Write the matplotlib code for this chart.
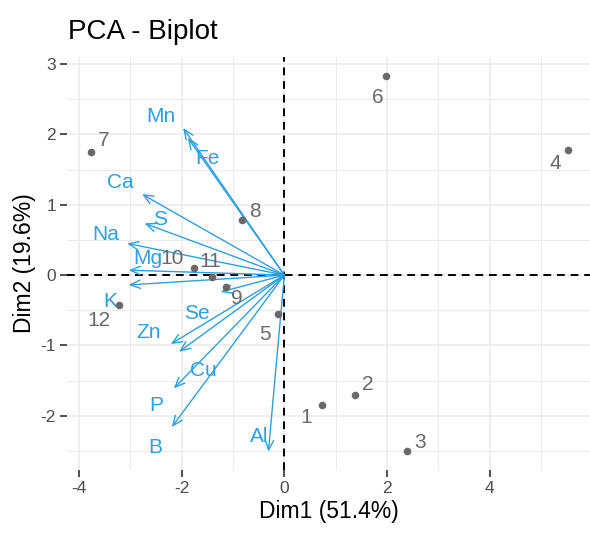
import numpy as np
import matplotlib.pyplot as plt

plt.rcParams['font.family'] = ['Liberation Sans', 'DejaVu Sans']
plt.rcParams['axes.unicode_minus'] = False

# individuals (scores on Dim1 / Dim2)
ind_names = ['1', '2', '3', '4', '5', '6', '7', '8', '9', '10', '11', '12']
ind_x = [0.73, 1.37, 2.38, 5.52, -0.13, 1.97, -3.76, -0.82, -1.14, -1.76, -1.40, -3.21]
ind_y = [-1.85, -1.70, -2.50, 1.78, -0.55, 2.83, 1.75, 0.78, -0.17, 0.095, -0.02, -0.42]

# variables (arrow tips)
var_names = ['Mn', 'Fe', 'Ca', 'S', 'Na', 'Mg', 'K', 'Se', 'Zn', 'Cu', 'P', 'B', 'Al']
var_x = [-1.97, -1.88, -2.77, -2.72, -3.06, -3.03, -3.03, -1.24, -2.21, -2.05, -2.15, -2.19, -0.31]
var_y = [2.09, 1.95, 1.15, 0.735, 0.45, 0.07, -0.14, -0.24, -0.98, -1.09, -1.61, -2.16, -2.51]

# label offsets (repelled text positions, relative to the mark)
ind_off = [(-0.30, -0.18), (0.25, 0.14), (0.26, 0.12), (-0.25, -0.19), (-0.24, -0.30),
           (-0.15, -0.31), (0.24, 0.17), (0.25, 0.12), (0.22, -0.16), (-0.43, 0.14),
           (-0.05, 0.22), (-0.40, -0.22)]
var_off = [(-0.43, 0.17), (0.38, -0.29), (-0.43, 0.17), (0.30, 0.05), (-0.42, 0.12),
           (0.37, 0.17), (-0.35, -0.24), (-0.46, -0.30), (-0.43, 0.17), (0.47, -0.26),
           (-0.35, -0.24), (-0.33, -0.29), (-0.18, 0.21)]

ind_col = '#696969'
var_col = '#2E9FDF'

fig = plt.figure(figsize=(5.9, 5.35), dpi=100)
ax = fig.add_axes([0.1136, 0.1215, 0.8864, 0.772])

ax.set_xlim(-4.23, 5.95)
ax.set_ylim(-2.77, 3.10)

# grid like theme_minimal
ax.set_xticks([-4, -2, 0, 2, 4])
ax.set_yticks([-2, -1, 0, 1, 2, 3])
ax.set_xticks([-3, -1, 1, 3, 5], minor=True)
ax.set_yticks([-2.5, -1.5, -0.5, 0.5, 1.5, 2.5], minor=True)
ax.grid(True, which='major', color='#EBEBEB', lw=1.1)
ax.grid(True, which='minor', color='#EBEBEB', lw=0.8)
ax.set_axisbelow(True)
for s in ax.spines.values():
    s.set_visible(False)
ax.tick_params(which='minor', length=0)
ax.tick_params(which='major', length=5, width=1.2, color='#333333',
               labelsize=12.5, labelcolor='#4D4D4D', pad=3)

ax.axhline(0, color='black', ls=(0, (4, 3)), lw=1.4, zorder=2)
ax.axvline(0, color='black', ls=(0, (4, 3)), lw=1.4, zorder=2)

# variable arrows
for i in range(len(var_names)):
    ax.annotate('', xy=(var_x[i], var_y[i]), xytext=(0, 0),
                arrowprops=dict(arrowstyle='->,head_length=0.7,head_width=0.3',
                                color=var_col, lw=1.0, shrinkA=0, shrinkB=0,
                                mutation_scale=10), zorder=3)
    ax.text(var_x[i] + var_off[i][0], var_y[i] + var_off[i][1], var_names[i],
            color=var_col, fontsize=15, ha='center', va='center', zorder=4)

# individuals
ax.scatter(ind_x, ind_y, s=30, color=ind_col, zorder=5, linewidths=0)
for i in range(len(ind_names)):
    ax.text(ind_x[i] + ind_off[i][0], ind_y[i] + ind_off[i][1], ind_names[i],
            color=ind_col, fontsize=15, ha='center', va='center', zorder=5)

ax.set_xlabel('Dim1 (51.4%)', fontsize=16.5, labelpad=3)
ax.set_ylabel('Dim2 (19.6%)', fontsize=16.5, labelpad=3)
fig.text(0.115, 0.94, 'PCA - Biplot', fontsize=20, ha='left', va='center')

plt.savefig('out.png')
